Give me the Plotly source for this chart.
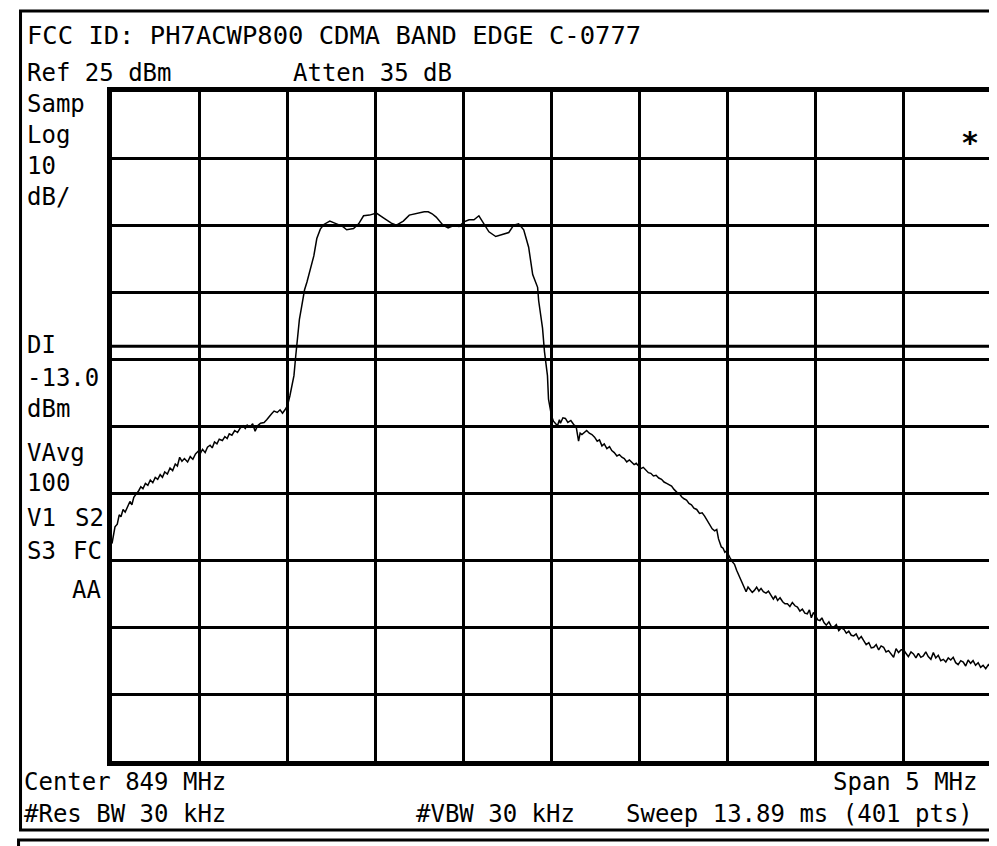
import plotly.graph_objects as go

# ---- data (frequency in MHz, level in dBm) ----
freq_mhz = [
    846.500, 846.510, 846.517, 846.530, 846.541, 846.551, 846.563, 846.575, 846.590, 846.602,
    846.613, 846.624, 846.640, 846.652, 846.664, 846.676, 846.690, 846.704, 846.718, 846.732,
    846.746, 846.760, 846.774, 846.787, 846.800, 846.815, 846.830, 846.845, 846.860, 846.872,
    846.885, 846.898, 846.912, 846.930, 846.945, 846.960, 846.975, 846.990, 847.003, 847.015,
    847.030, 847.043, 847.058, 847.070, 847.083, 847.097, 847.110, 847.128, 847.142, 847.155,
    847.167, 847.182, 847.198, 847.214, 847.230, 847.245, 847.258, 847.269, 847.285, 847.300,
    847.314, 847.328, 847.345, 847.365, 847.380, 847.393, 847.408, 847.422, 847.440, 847.456,
    847.470, 847.484, 847.498, 847.512, 847.525, 847.535, 847.545, 847.552, 847.566, 847.580,
    847.595, 847.609, 847.628, 847.648, 847.665, 847.685, 847.705,
    847.739, 847.767, 847.790, 847.812, 847.835, 847.874, 847.903, 847.931, 847.965, 848.004,
    848.044, 848.089, 848.118, 848.157, 848.191, 848.219, 848.248, 848.276, 848.299, 848.321,
    848.344, 848.383, 848.412, 848.440, 848.474, 848.502, 848.531, 848.559, 848.587, 848.615,
    848.644, 848.683, 848.723, 848.757, 848.785, 848.813, 848.842,
    848.870, 848.893, 848.921, 848.927, 848.949, 848.960, 848.977, 848.983, 849.000, 849.011,
    849.034, 849.045, 849.051, 849.065, 849.079, 849.093, 849.110, 849.126, 849.140, 849.154,
    849.163, 849.173, 849.188, 849.200, 849.215, 849.230, 849.245, 849.260, 849.273, 849.287,
    849.300, 849.315, 849.330, 849.343, 849.357, 849.372, 849.386, 849.400, 849.414, 849.428,
    849.443, 849.457, 849.470, 849.482, 849.494, 849.508, 849.522, 849.537, 849.551, 849.565,
    849.580, 849.595, 849.610, 849.626, 849.640, 849.655, 849.669, 849.683, 849.697, 849.712,
    849.726, 849.740, 849.754, 849.768, 849.782, 849.796, 849.810, 849.826, 849.842, 849.857,
    849.871, 849.885, 849.900, 849.914, 849.928, 849.940, 849.950, 849.958, 849.966, 849.976,
    849.986, 849.995, 850.003, 850.015, 850.028, 850.041, 850.053, 850.066, 850.079, 850.093,
    850.107, 850.118, 850.130, 850.142, 850.154, 850.167, 850.180, 850.192, 850.205, 850.220,
    850.234, 850.248, 850.262, 850.274, 850.286, 850.300, 850.315, 850.328, 850.342, 850.356,
    850.370, 850.385, 850.399, 850.413, 850.427, 850.441, 850.455, 850.467, 850.478, 850.490,
    850.502, 850.515, 850.527, 850.538, 850.550, 850.563, 850.578, 850.592, 850.606, 850.620,
    850.634, 850.648, 850.663, 850.677, 850.691, 850.705, 850.719, 850.733, 850.748, 850.762,
    850.776, 850.790, 850.805, 850.819, 850.833, 850.847, 850.861, 850.875, 850.889, 850.903,
    850.917, 850.932, 850.946, 850.960, 850.974, 850.988, 851.002, 851.016, 851.030, 851.045,
    851.059, 851.073, 851.087, 851.101, 851.115, 851.129, 851.143, 851.158, 851.172, 851.186,
    851.200, 851.214, 851.229, 851.243, 851.257, 851.271, 851.285, 851.299, 851.313, 851.328,
    851.342, 851.356, 851.370, 851.384, 851.398, 851.412, 851.427, 851.441, 851.455, 851.470,
    851.485, 851.500,
]
level_dbm = [
    -42.5, -41.0, -40.0, -39.6, -38.2, -38.5, -37.4, -37.8, -36.9, -36.2,
    -36.7, -35.6, -35.0, -34.6, -34.0, -34.3, -33.5, -33.8, -33.0, -33.4,
    -32.6, -32.9, -32.2, -32.6, -31.8, -32.1, -31.2, -31.6, -30.6, -30.9,
    -29.6, -30.2, -29.8, -30.3, -29.5, -29.9, -29.1, -28.7, -29.0, -28.4,
    -28.9, -28.1, -27.8, -28.2, -27.3, -27.6, -26.9, -27.1, -26.5, -26.8,
    -26.1, -26.3, -25.6, -25.9, -25.2, -24.9, -25.3, -24.8, -25.1, -24.6,
    -25.7, -24.9, -24.5, -24.4, -24.0, -23.5, -23.1, -22.7, -22.9, -22.5,
    -23.0, -22.5, -21.9, -20.4, -18.6, -17.4, -14.5, -12.3, -9.0, -6.9,
    -4.6, -3.4, -1.4, 0.5, 3.1, 4.5, 5.2,
    5.7, 5.4, 5.1, 4.9, 4.4, 4.6, 5.3, 6.5, 6.6, 6.9,
    6.2, 5.4, 5.1, 5.7, 6.6, 6.8, 6.9, 7.1, 7.1, 6.8,
    6.3, 5.1, 4.7, 5.0, 4.9, 5.6, 5.9, 5.9, 6.5, 5.4,
    4.1, 3.4, 3.7, 4.0, 5.1, 5.3, 4.4,
    1.8, -2.3, -4.2, -6.2, -10.3, -13.8, -17.4, -20.9, -23.4, -24.2,
    -24.9, -24.0, -24.5, -23.7, -23.8, -24.4, -24.1, -24.7, -25.0, -27.2,
    -26.0, -26.2, -25.9, -25.6, -26.0, -26.2, -26.6, -27.2, -27.0, -27.9,
    -27.6, -28.3, -28.0, -28.6, -28.9, -29.4, -29.2, -29.6, -29.8, -30.3,
    -30.0, -30.4, -30.7, -30.5, -30.9, -31.3, -31.1, -31.6, -31.9, -32.0,
    -32.4, -32.3, -32.7, -32.9, -33.3, -33.5, -33.7, -33.9, -34.4, -34.8,
    -35.0, -35.5, -35.8, -36.0, -36.5, -36.7, -37.2, -37.4, -38.0, -37.9,
    -38.4, -39.0, -39.5, -40.3, -40.6, -40.4, -41.8, -42.6, -43.0, -43.2,
    -43.8, -43.6, -44.1, -44.6, -45.2, -45.6, -46.5, -47.3, -48.0, -48.8,
    -49.7, -49.0, -49.4, -49.8, -49.5, -49.0, -49.6, -49.2, -49.7, -49.9,
    -49.6, -50.2, -50.8, -50.3, -51.0, -50.6, -51.2, -51.5, -51.5, -51.9,
    -51.3, -51.8, -52.0, -52.6, -52.3, -52.9, -53.0, -52.4, -53.6, -52.8,
    -53.3, -53.9, -54.0, -53.6, -54.3, -54.7, -54.2, -54.9, -55.0, -54.6,
    -55.5, -55.1, -55.3, -55.9, -55.6, -56.2, -56.3, -56.0, -56.8, -56.4,
    -57.0, -57.6, -57.3, -58.1, -58.0, -57.6, -58.4, -57.8, -58.0, -58.7,
    -58.5, -59.0, -59.5, -58.2, -58.8, -58.4, -58.3, -58.9, -59.4, -58.7,
    -59.0, -59.6, -58.9, -59.5, -59.3, -58.7, -59.4, -59.8, -58.8, -59.6,
    -59.2, -60.0, -59.8, -60.2, -59.6, -59.9, -59.5, -60.3, -60.6, -60.0,
    -60.2, -60.8, -59.9, -60.4, -60.0, -60.7, -60.3, -61.0, -60.7, -61.2,
    -60.6, -61.0,
]

# instrument settings
center_mhz = 849.0
span_mhz = 5.0
ref_dbm = 25.0
db_per_div = 10.0
display_line_dbm = -13.0

title_text = "FCC ID: PH7ACWP800 CDMA BAND EDGE C-0777"
top_row = [("Ref 25 dBm", 17, 65), ("Atten 35 dB", 284, 65)]
side_labels = [
    ("Samp", 17, 96), ("Log", 17, 127), ("10", 17, 158), ("dB/", 17, 189),
    ("DI", 17, 337), ("-13.0", 17, 370), ("dBm", 17, 401),
    ("VAvg", 17, 445), ("100", 17, 475),
    ("V1", 17, 510), ("S2", 65, 510), ("S3", 17, 543), ("FC", 63, 543), ("AA", 62, 582),
]
bottom_left = [("Center 849 MHz", 13, 774), ("#Res BW 30 kHz", 13, 806),
               ("#VBW 30 kHz", 408, 806)]
bottom_right = [("Span 5 MHz", 977, 774), ("Sweep 13.89 ms (401 pts)", 972, 806)]

W, H = 997, 846
L, R, T, B = 104, 9, 84, 93
PW, PH = W - L - R, H - T - B


def px(x):
    return (x - L) / PW


def py(y):
    return (H - B - y) / PH


FONT = "DejaVu Sans Mono"

fig = go.Figure()
fig.add_trace(go.Scatter(x=freq_mhz, y=level_dbm, mode="lines",
                         line=dict(color="black", width=1.5), hoverinfo="skip"))

x0 = center_mhz - span_mhz / 2
x1 = center_mhz + span_mhz / 2
y1 = ref_dbm
y0 = ref_dbm - 10 * db_per_div

axis_common = dict(showgrid=True, gridcolor="black", gridwidth=3, zeroline=False,
                   showline=True, linecolor="black", linewidth=5, mirror=True,
                   showticklabels=False, ticks="")
fig.update_xaxes(range=[x0, x1], tick0=x0, dtick=span_mhz / 10, **axis_common)
fig.update_yaxes(range=[y0, y1], tick0=y0, dtick=db_per_div, **axis_common)

shapes = [
    dict(type="line", xref="x", yref="y", x0=x0, x1=x1,
         y0=display_line_dbm, y1=display_line_dbm, line=dict(color="black", width=3)),
    dict(type="rect", xref="paper", yref="paper", x0=px(12), x1=px(991), y0=py(822), y1=py(3),
         line=dict(color="black", width=3), layer="below"),
    dict(type="rect", xref="paper", yref="paper", x0=px(10), x1=px(991), y0=py(860), y1=py(832),
         line=dict(color="black", width=3), layer="below"),
]

ann = []


def add_text(text, x, y, size=24, anchor="left"):
    ann.append(dict(text=text, xref="paper", yref="paper", x=px(x), y=py(y),
                    xanchor=anchor, yanchor="middle", showarrow=False,
                    font=dict(family=FONT, size=size, color="black")))


add_text(title_text, 17, 27, size=25.5)
for t, x, y in top_row:
    add_text(t, x, y)
for t, x, y in side_labels:
    add_text(t, x, y)
for t, x, y in bottom_left:
    add_text(t, x, y)
for t, x, y in bottom_right:
    add_text(t, x, y, anchor="right")
add_text("<b>*</b>", 967, 134, size=30, anchor="center")

fig.update_layout(width=W, height=H, margin=dict(l=L, r=R, t=T, b=B),
                  paper_bgcolor="white", plot_bgcolor="white", showlegend=False,
                  shapes=shapes, annotations=ann)

fig.write_html("out.html")
